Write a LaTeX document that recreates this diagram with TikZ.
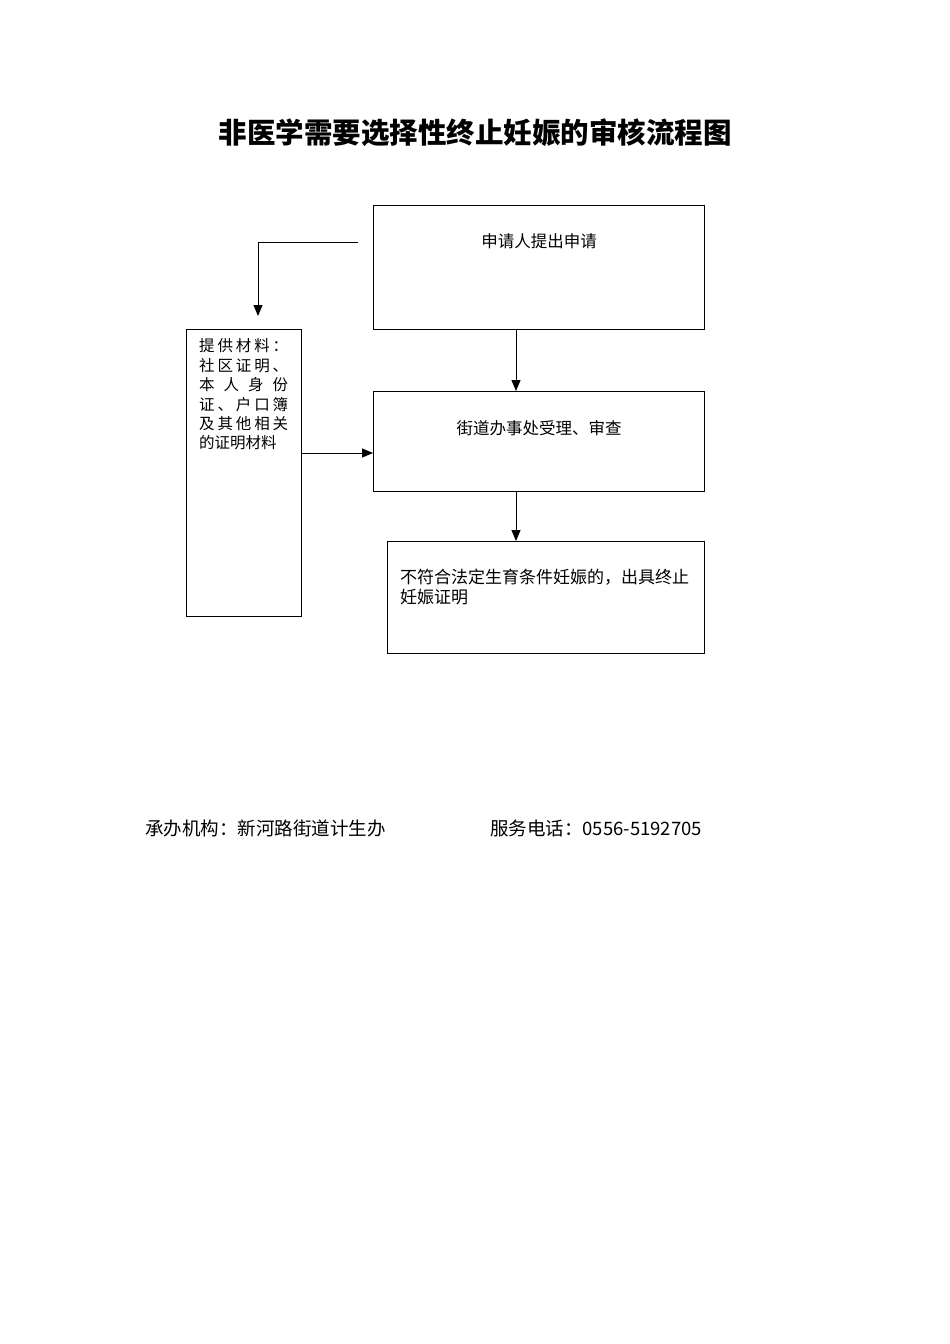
\documentclass[tikz,border=0pt]{standalone}
\usepackage{fontspec}
\newfontfamily\cjk{Noto Sans CJK SC}
\usetikzlibrary{arrows.meta}
\begin{document}
\begin{tikzpicture}[x=1pt,y=-1pt,
  box/.style={draw, line width=1pt, inner sep=0pt, anchor=north west},
  arr/.style={line width=1pt, -{Triangle[length=11pt,width=9pt]}},
  txt/.style={inner sep=0pt, font=\cjk\fontsize{16.5}{20}\selectfont},
  ltxt/.style={inner sep=0pt, anchor=west, font=\cjk\fontsize{15.5}{18}\selectfont},
  foot/.style={inner sep=0pt, anchor=west, font=\cjk\fontsize{18.5}{22}\selectfont}]
\useasboundingbox (0,0) rectangle (950,1344);

\node[inner sep=0pt, font=\cjk\bfseries\fontsize{28.5}{34}\selectfont] (title) at (475,133) {非医学需要选择性终止妊娠的审核流程图};

\node[box, minimum width=331pt, minimum height=124pt] (b1) at (373,205) {};
\node[box, minimum width=331pt, minimum height=100pt] (b2) at (373,391) {};
\node[box, minimum width=317pt, minimum height=112pt] (b3) at (387,541) {};
\node[box, minimum width=115pt, minimum height=287pt] (bl) at (186,329) {};

\node[txt] (t1) at (539,241) {申请人提出申请};
\node[txt] (t2) at (539,428) {街道办事处受理、审查};
\node[txt, anchor=west, font=\cjk\fontsize{17}{20}\selectfont] (t3a) at (400,577) {不符合法定生育条件妊娠的，出具终止};
\node[txt, anchor=west, font=\cjk\fontsize{17}{20}\selectfont] (t3b) at (400,597) {妊娠证明};

\node[ltxt] (l1) at (199,346) {\hbox to 89pt{提\hfill 供\hfill 材\hfill 料\hfill ：}};
\node[ltxt] (l2) at (199,366) {\hbox to 89pt{社\hfill 区\hfill 证\hfill 明\hfill 、}};
\node[ltxt] (l3) at (199,385) {\hbox to 89pt{本\hfill 人\hfill 身\hfill 份}};
\node[ltxt] (l4) at (199,405) {\hbox to 89pt{证\hfill 、\hfill 户\hfill 口\hfill 簿}};
\node[ltxt] (l5) at (199,424) {\hbox to 89pt{及\hfill 其\hfill 他\hfill 相\hfill 关}};
\node[ltxt] (l6) at (199,443) {的证明材料};

\coordinate (s1) at (358,242);
\coordinate (e1) at (258,316);
\draw[arr] (s1) -| (e1);
\draw[arr] ([xshift=143pt]b1.south west) -- ([xshift=143pt]b2.north west);
\draw[arr] ([xshift=143pt]b2.south west) -- ([xshift=129pt]b3.north west);
\draw[arr] ([yshift=-124pt]bl.north east) -- ([yshift=-124pt]bl.north east -| b2.west);

\node[foot] (f1) at (145,828) {承办机构：新河路街道计生办};
\node[foot] (f2) at (490,828) {服务电话：0556-5192705};
\end{tikzpicture}
\end{document}
